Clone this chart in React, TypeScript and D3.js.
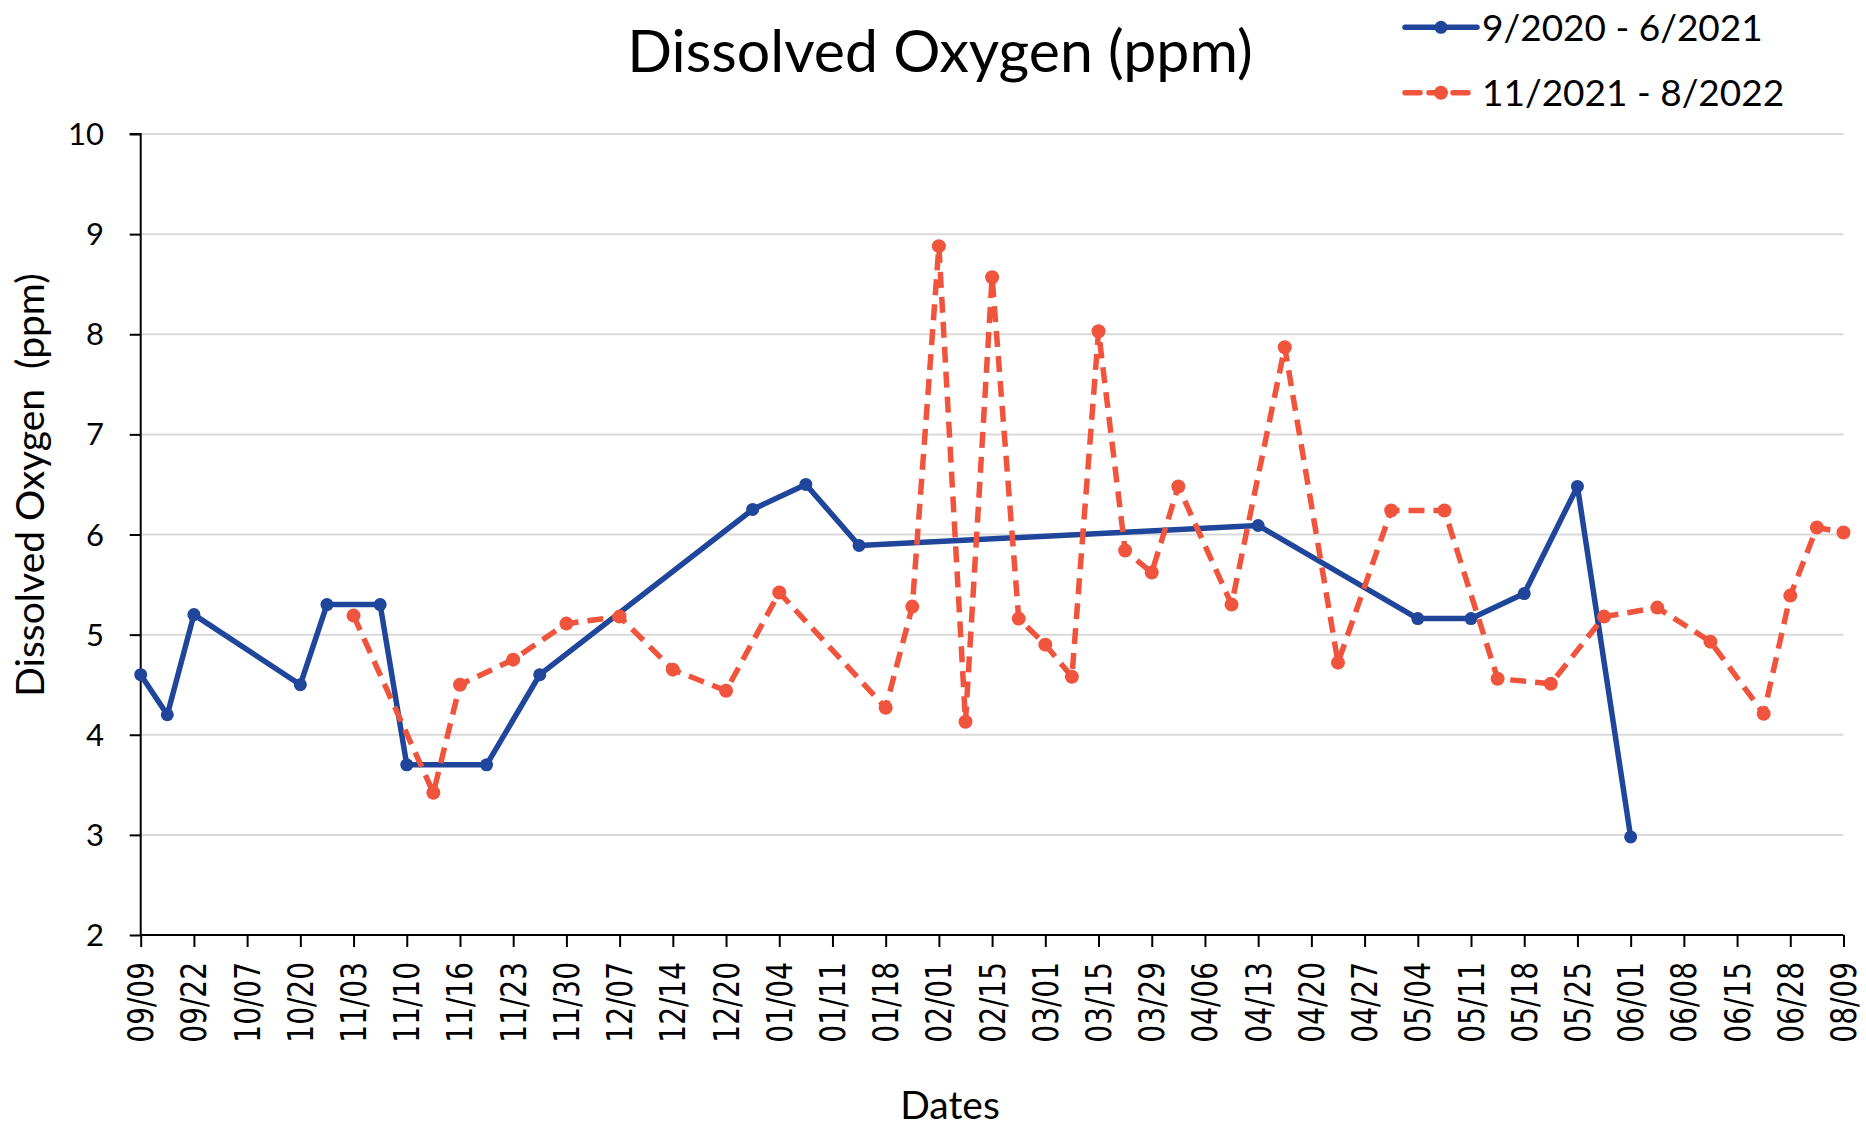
import React, { useEffect, useRef } from "react";
import * as d3 from "d3";

// x positions are half-week slots: every 2nd slot carries a date label
const tickLabels = [
  "09/09", "09/22", "10/07", "10/20", "11/03", "11/10", "11/16", "11/23", "11/30",
  "12/07", "12/14", "12/20", "01/04", "01/11", "01/18", "02/01", "02/15", "03/01",
  "03/15", "03/29", "04/06", "04/13", "04/20", "04/27", "05/04", "05/11", "05/18",
  "05/25", "06/01", "06/08", "06/15", "06/28", "08/09",
];

const series1Name = "9/2020 - 6/2021";
const series1Slots = [0, 1, 2, 6, 7, 9, 10, 13, 15, 23, 25, 27, 42, 48, 50, 52, 54, 56];
const series1Values = [4.6, 4.2, 5.2, 4.5, 5.3, 5.3, 3.7, 3.7, 4.6, 6.25, 6.5, 5.89, 6.09, 5.16, 5.16, 5.41, 6.48, 2.98];

const series2Name = "11/2021 - 8/2022";
const series2Slots = [
  8, 11, 12, 14, 16, 18, 20, 22, 24, 28, 29, 30, 31, 32, 33, 34, 35, 36, 37, 38, 39,
  41, 43, 45, 47, 49, 51, 53, 55, 57, 59, 61, 62, 63, 64,
];
const series2Values = [
  5.19, 3.42, 4.5, 4.75, 5.11, 5.18, 4.65, 4.44, 5.42, 4.27, 5.28, 8.88, 4.13, 8.57, 5.16,
  4.9, 4.58, 8.03, 5.84, 5.62, 6.48, 5.3, 7.87, 4.72, 6.24, 6.24, 4.56, 4.51, 5.18, 5.27,
  4.93, 4.21, 5.39, 6.07, 6.02,
];

const yTicks = [2, 3, 4, 5, 6, 7, 8, 9, 10];

const W = 1866, H = 1126;
const BLUE = "#1f469b";
const ORANGE = "#f0543c";
const FONT = "Lato, 'Open Sans', sans-serif";
const DASH = "16 9";

const App = () => {
  const ref = useRef<SVGSVGElement>(null);

  useEffect(() => {
    const svg = d3.select(ref.current);
    svg.selectAll("*").remove();

    const x = d3.scaleLinear().domain([0, 64]).range([140.7, 1843.5]);
    const y = d3.scaleLinear().domain([2, 10]).range([935, 134]);

    // gridlines
    svg.append("g")
      .selectAll("line")
      .data(yTicks.filter(d => d > 2))
      .join("line")
      .attr("x1", x(0)).attr("x2", x(64))
      .attr("y1", d => y(d)).attr("y2", d => y(d))
      .attr("stroke", "#d9d9d9").attr("stroke-width", 2);

    // y axis
    const ya = svg.append("g").attr("transform", `translate(${x(0)},0)`)
      .call(d3.axisLeft(y).tickValues(yTicks).tickSize(11).tickFormat(() => ""));
    ya.selectAll("path, line").attr("stroke", "#000").attr("stroke-width", 2);
    ya.select(".domain").attr("d", `M-11,${y(10)}H0V${y(2)}`);

    svg.append("g")
      .selectAll("text")
      .data(yTicks)
      .join("text")
      .attr("x", 104).attr("y", d => y(d) + 11)
      .attr("text-anchor", "end")
      .style("font-family", FONT).style("font-size", "31px")
      .attr("fill", "#000")
      .text(d => d);

    // x axis
    const labelSlots = d3.range(0, 65, 2);
    const xa = svg.append("g").attr("transform", `translate(0,${y(2)})`)
      .call(d3.axisBottom(x).tickValues(labelSlots).tickSize(12).tickFormat(() => ""));
    xa.selectAll("path, line").attr("stroke", "#000").attr("stroke-width", 2);
    xa.select(".domain").attr("d", `M${x(0)},0H${x(64)}`);

    svg.append("g")
      .selectAll("text")
      .data(labelSlots)
      .join("text")
      .attr("transform", d => `translate(${x(d) + 12.5},962) rotate(-90) scale(0.8,1)`)
      .attr("text-anchor", "end")
      .style("font-family", "'DejaVu Sans', sans-serif").style("font-size", "35px")
      .attr("fill", "#000")
      .text((_, i) => tickLabels[i]);

    // series
    const drawSeries = (slots: number[], values: number[], color: string, dash: string | null, r: number) => {
      const line = d3.line<number>().x((_, i) => x(slots[i])).y(d => y(d));
      const g = svg.append("g");
      g.append("path")
        .attr("d", line(values))
        .attr("fill", "none")
        .attr("stroke", color)
        .attr("stroke-width", 5.5)
        .attr("stroke-linejoin", "round")
        .attr("stroke-dasharray", dash);
      g.selectAll("circle")
        .data(values)
        .join("circle")
        .attr("cx", (_, i) => x(slots[i]))
        .attr("cy", d => y(d))
        .attr("r", r)
        .attr("fill", color);
    };
    drawSeries(series1Slots, series1Values, BLUE, null, 6.5);
    drawSeries(series2Slots, series2Values, ORANGE, DASH, 7);

    // titles
    svg.append("text")
      .attr("x", 940).attr("y", 72)
      .attr("text-anchor", "middle")
      .style("font-family", FONT).style("font-size", "59px")
      .text("Dissolved Oxygen (ppm)");

    svg.append("text")
      .attr("transform", "translate(44,485) rotate(-90)")
      .attr("text-anchor", "middle")
      .style("font-family", FONT).style("font-size", "39px")
      .style("white-space", "pre")
      .text("Dissolved Oxygen  (ppm)");

    svg.append("text")
      .attr("x", 950).attr("y", 1119)
      .attr("text-anchor", "middle")
      .style("font-family", FONT).style("font-size", "39px")
      .text("Dates");

    // legend
    const legend = [
      { name: series1Name, color: BLUE, dash: null, ly: 27.3, ty: 41, r: 6.5 },
      { name: series2Name, color: ORANGE, dash: "15 9", ly: 92.7, ty: 106, r: 7 },
    ];
    const lg = svg.append("g").selectAll("g").data(legend).join("g");
    lg.append("line")
      .attr("x1", 1405).attr("x2", 1477)
      .attr("y1", d => d.ly).attr("y2", d => d.ly)
      .attr("stroke", d => d.color).attr("stroke-width", 5.5)
      .attr("stroke-linecap", "round")
      .attr("stroke-dasharray", d => d.dash);
    lg.append("circle")
      .attr("cx", 1441).attr("cy", d => d.ly).attr("r", d => d.r)
      .attr("fill", d => d.color);
    lg.append("text")
      .attr("x", 1482).attr("y", d => d.ty)
      .style("font-family", FONT).style("font-size", "37px")
      .text(d => d.name);
  }, []);

  return (
    <svg ref={ref} width={W} height={H}
      style={{ position: "absolute", left: 0, top: 0, background: "#fff" }} />
  );
};

export default App;
